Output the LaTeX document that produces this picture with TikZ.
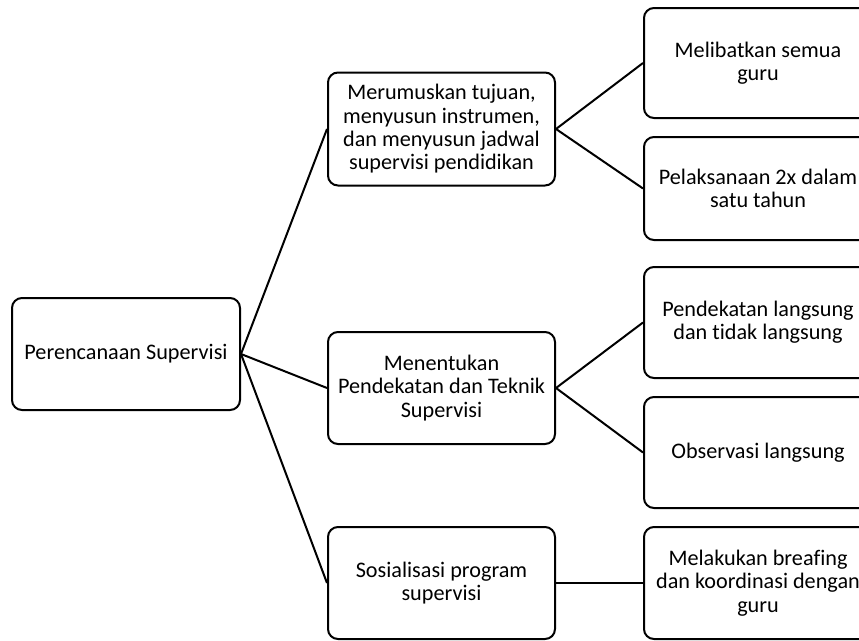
\documentclass[tikz,border=0pt]{standalone}
\usepackage{fontspec}
\setmainfont{Carlito}[Ligatures={NoCommon}]
\begin{document}
\begin{tikzpicture}[x=1pt,y=-1pt,
  box/.style={draw=black,line width=2pt,rounded corners=10pt,align=center,
    inner sep=0pt,font=\fontsize{22.2}{23.3}\selectfont},
  conn/.style={line width=2pt}]
\useasboundingbox (0,0) rectangle (859,640);
\node[box,minimum width=228pt,minimum height=112pt] (root) at (126,354) {Perencanaan Supervisi};
\node[box,minimum width=227pt,minimum height=113pt] (m1) at (441.5,129) {Merumuskan tujuan,\\menyusun instrumen,\\dan menyusun jadwal\\supervisi pendidikan};
\node[box,minimum width=227pt,minimum height=112pt] (m2) at (441.5,388) {Menentukan\\Pendekatan dan Teknik\\Supervisi};
\node[box,minimum width=227pt,minimum height=112pt] (m3) at (441.5,583) {Sosialisasi program\\supervisi};
\node[box,minimum width=228pt,minimum height=110pt] (r1) at (758,63) {Melibatkan semua\\guru};
\node[box,minimum width=228pt,minimum height=103pt] (r2) at (758,188.5) {Pelaksanaan 2x dalam\\satu tahun};
\node[box,minimum width=228pt,minimum height=111pt] (r3) at (758,322.5) {Pendekatan langsung\\dan tidak langsung};
\node[box,minimum width=228pt,minimum height=111pt] (r4) at (758,452.5) {Observasi langsung};
\node[box,minimum width=228pt,minimum height=112pt] (r5) at (758,583) {Melakukan breafing\\dan koordinasi dengan\\guru};
\draw[conn] (root.east) -- (m1.west);
\draw[conn] (root.east) -- (m2.west);
\draw[conn] (root.east) -- (m3.west);
\draw[conn] (m1.east) -- (r1.west);
\draw[conn] (m1.east) -- (r2.west);
\draw[conn] (m2.east) -- (r3.west);
\draw[conn] (m2.east) -- (r4.west);
\draw[conn] (m3.east) -- (r5.west);
\end{tikzpicture}
\end{document}
